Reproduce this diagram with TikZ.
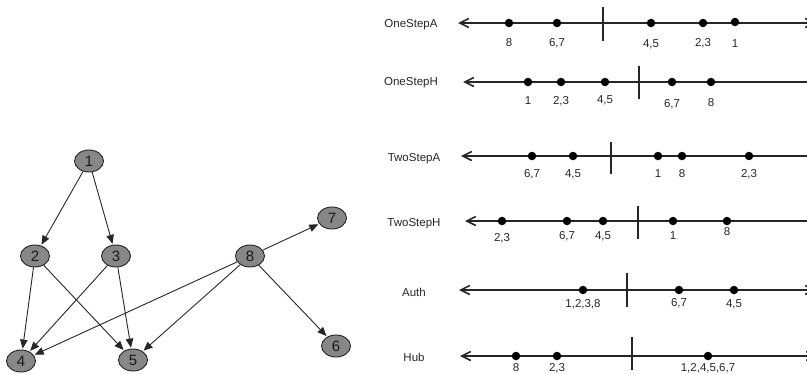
\documentclass[tikz,border=0pt]{standalone}
\usepackage{fontspec}
\setmainfont{Liberation Sans}
\usetikzlibrary{shapes.geometric,arrows.meta}

\tikzset{
  gnode/.style={ellipse, draw=black!85, fill=black!47, line width=0.9pt,
    minimum width=29pt, minimum height=22pt, inner sep=0pt,
    font=\fontsize{15}{17}\selectfont, text=black!90},
  gedge/.style={draw=black!85, line width=0.9pt,
    -{Triangle[length=9pt,width=7.5pt]}, shorten >=1pt},
  rowlabel/.style={font=\fontsize{11.5}{13}\selectfont, text height=8.2pt,
    text depth=0pt, inner sep=0pt, text=black!85},
  vallabel/.style={font=\fontsize{11.5}{13}\selectfont, text height=8.2pt,
    text depth=0pt, inner sep=0pt, text=black!85},
  axisline/.style={draw=black!85, line width=1.8pt,
    {Straight Barb[length=9pt,width=9pt,line width=1.6pt]}-{Straight Barb[length=9pt,width=9pt,line width=1.6pt]}},
  tickmark/.style={draw=black!85, line width=1.8pt},
  ptdot/.style={circle, fill=black, inner sep=0pt, minimum size=8.5pt},
}

\begin{document}
\begin{tikzpicture}[x=1pt,y=-1pt]
\useasboundingbox (0,0) rectangle (807,375);
\clip (0,0) rectangle (807,375);

% ---------------- directed graph ----------------
\node[gnode] (n1) at (89,161) {1};
\node[gnode] (n2) at (35,256) {2};
\node[gnode] (n3) at (116,256) {3};
\node[gnode] (n4) at (21,361) {4};
\node[gnode] (n5) at (133,360) {5};
\node[gnode] (n6) at (336,346) {6};
\node[gnode] (n7) at (332,218) {7};
\node[gnode] (n8) at (250,256) {8};

\draw[gedge] (n1) -- (n2);
\draw[gedge] (n1) -- (n3);
\draw[gedge] (n2) -- (n4);
\draw[gedge] (n2) -- (n5);
\draw[gedge] (n3) -- (n4);
\draw[gedge] (n3) -- (n5);
\draw[gedge] (n8) -- (n7);
\draw[gedge] (n8) -- (n6);
\draw[gedge] (n8) -- (n4);
\draw[gedge] (n8) -- (n5);

% ---------------- OneStepA ----------------
\node[rowlabel] (lbA) at (411,23) {OneStepA};
\coordinate (aL) at (458,23);
\coordinate (aR) at (816,23);
\draw[axisline] (aL) -- (aR);
\coordinate (aT1) at (603,7);
\coordinate (aT2) at (603,41);
\draw[tickmark] (aT1) -- (aT2);
\node[ptdot] (a8) at (509,23) {};
\node[ptdot] (a67) at (557,23) {};
\node[ptdot] (a45) at (651,23) {};
\node[ptdot] (a23) at (703,23) {};
\node[ptdot] (a1) at (735,22) {};
\node[vallabel] (ta8) at (509,42) {8};
\node[vallabel] (ta67) at (557,42) {6,7};
\node[vallabel] (ta45) at (651,43) {4,5};
\node[vallabel] (ta23) at (703,42) {2,3};
\node[vallabel] (ta1) at (735,43) {1};

% ---------------- OneStepH ----------------
\node[rowlabel] (lbB) at (411,81) {OneStepH};
\coordinate (bL) at (463,82);
\coordinate (bR) at (819,82);
\draw[axisline] (bL) -- (bR);
\coordinate (bT1) at (639,66);
\coordinate (bT2) at (639,99);
\draw[tickmark] (bT1) -- (bT2);
\node[ptdot] (b1) at (528,82) {};
\node[ptdot] (b23) at (561,82) {};
\node[ptdot] (b45) at (605,82) {};
\node[ptdot] (b67) at (672,82) {};
\node[ptdot] (b8) at (711,82) {};
\node[vallabel] (tb1) at (528,100) {1};
\node[vallabel] (tb23) at (561,100) {2,3};
\node[vallabel] (tb45) at (605,99) {4,5};
\node[vallabel] (tb67) at (672,103) {6,7};
\node[vallabel] (tb8) at (711,102) {8};

% ---------------- TwoStepA ----------------
\node[rowlabel] (lbC) at (414,157) {TwoStepA};
\coordinate (cL) at (461,156);
\coordinate (cR) at (818,156);
\draw[axisline] (cL) -- (cR);
\coordinate (cT1) at (611,142);
\coordinate (cT2) at (611,174);
\draw[tickmark] (cT1) -- (cT2);
\node[ptdot] (c67) at (532,156) {};
\node[ptdot] (c45) at (573,156) {};
\node[ptdot] (c1) at (658,156) {};
\node[ptdot] (c8) at (682,156) {};
\node[ptdot] (c23) at (749,156) {};
\node[vallabel] (tc67) at (532,173) {6,7};
\node[vallabel] (tc45) at (573,173) {4,5};
\node[vallabel] (tc1) at (658,173) {1};
\node[vallabel] (tc8) at (682,173) {8};
\node[vallabel] (tc23) at (749,173) {2,3};

% ---------------- TwoStepH ----------------
\node[rowlabel] (lbD) at (414,222) {TwoStepH};
\coordinate (dL) at (465,221);
\coordinate (dR) at (819,221);
\draw[axisline] (dL) -- (dR);
\coordinate (dT1) at (638,206);
\coordinate (dT2) at (638,239);
\draw[tickmark] (dT1) -- (dT2);
\node[ptdot] (d23) at (502,221) {};
\node[ptdot] (d67) at (567,221) {};
\node[ptdot] (d45) at (603,221) {};
\node[ptdot] (d1) at (673,221) {};
\node[ptdot] (d8) at (727,221) {};
\node[vallabel] (td23) at (502,237) {2,3};
\node[vallabel] (td67) at (567,235) {6,7};
\node[vallabel] (td45) at (603,235) {4,5};
\node[vallabel] (td1) at (673,235) {1};
\node[vallabel] (td8) at (727,231) {8};

% ---------------- Auth ----------------
\node[rowlabel] (lbE) at (414,292) {Auth};
\coordinate (eL) at (459,290);
\coordinate (eR) at (816,290);
\draw[axisline] (eL) -- (eR);
\coordinate (eT1) at (627,273);
\coordinate (eT2) at (627,307);
\draw[tickmark] (eT1) -- (eT2);
\node[ptdot] (e1238) at (583,290) {};
\node[ptdot] (e67) at (679,290) {};
\node[ptdot] (e45) at (734,290) {};
\node[vallabel] (te1238) at (583,303) {1,2,3,8};
\node[vallabel] (te67) at (679,302) {6,7};
\node[vallabel] (te45) at (734,303) {4,5};

% ---------------- Hub ----------------
\node[rowlabel] (lbF) at (414,357) {Hub};
\coordinate (fL) at (460,356);
\coordinate (fR) at (817,356);
\draw[axisline] (fL) -- (fR);
\coordinate (fT1) at (632,337);
\coordinate (fT2) at (632,370);
\draw[tickmark] (fT1) -- (fT2);
\node[ptdot] (f8) at (516,356) {};
\node[ptdot] (f23) at (557,356) {};
\node[ptdot] (fall) at (708,356) {};
\node[vallabel] (tf8) at (516,367) {8};
\node[vallabel] (tf23) at (557,367) {2,3};
\node[vallabel] (tfall) at (708,367) {1,2,4,5,6,7};
\end{tikzpicture}
\end{document}
